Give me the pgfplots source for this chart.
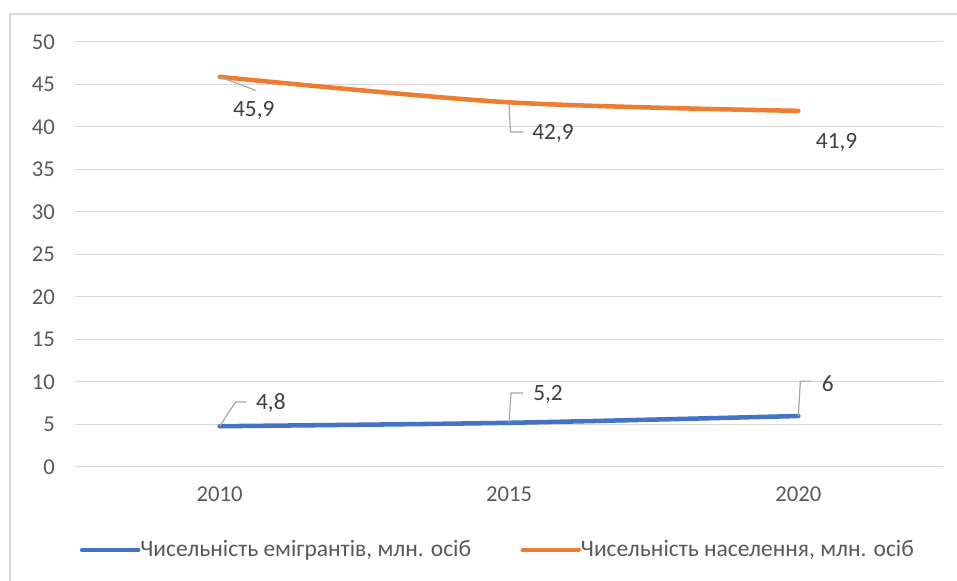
\documentclass[border=0pt]{standalone}
\usepackage{pgfplots}
\pgfplotsset{compat=1.18}
\usepackage{fontspec}
\setmainfont{Carlito}
\definecolor{cblue}{HTML}{4472C4}
\definecolor{corange}{HTML}{ED7D31}
\definecolor{cgrid}{HTML}{D9D9D9}
\definecolor{ctext}{HTML}{595959}
\definecolor{clab}{HTML}{404040}
\definecolor{clead}{HTML}{A6A6A6}
\begin{document}
\begin{tikzpicture}
\useasboundingbox (-56.25pt,-85.5pt) rectangle (661.5pt,350.25pt);
\draw[cgrid, line width=0.9pt] (-48.75pt,-90pt) -- (-48.75pt,339.75pt) -- (665pt,339.75pt);
\begin{axis}[
  at={(0,0)}, anchor=south west,
  scale only axis,
  width=651pt, height=318.75pt,
  xmin=-0.5, xmax=2.5,
  ymin=0, ymax=50,
  xtick={0,1,2},
  xticklabels={2010,2015,2020},
  ytick={0,5,...,50},
  axis line style={draw=none},
  major tick length=0pt,
  ymajorgrids,
  grid style={cgrid, line width=0.75pt},
  tick label style={font=\fontsize{17}{20}\selectfont, text=ctext},
  /pgf/number format/assume math mode=true,
  yticklabel style={xshift=-11.5pt},
  xticklabel style={yshift=-11pt},
  legend columns=2,
  legend style={draw=none, at={(0.486,-0.195)}, anchor=center,
    font=\fontsize{17.6}{20}\selectfont, text=ctext,
    /tikz/every even column/.append style={column sep=37pt},
    inner sep=0pt,
    nodes={inner sep=0pt}},
  legend image code/.code={\draw[line width=3.4pt, line cap=round] (0pt,0pt) -- (42pt,0pt);},
  clip=false,
]
\addplot[cblue, line width=3.4pt, line cap=round, smooth, tension=0.5] coordinates {(0,4.8) (1,5.2) (2,6)};
\addlegendentry{Чисельність емігрантів, млн. осіб}
\addplot[corange, line width=3.4pt, line cap=round, smooth, tension=0.5] coordinates {(0,45.9) (1,42.9) (2,41.9)};
\addlegendentry{Чисельність населення, млн. осіб}
% leader lines
\draw[clead, line width=0.9pt] (axis cs:0.0,45.9) -- (axis cs:0.125,44.3);
\draw[clead, line width=0.9pt] (axis cs:1.0,42.9) -- (axis cs:1.005,39.4) -- (axis cs:1.05,39.4);
\draw[clead, line width=0.9pt] (axis cs:0.0,4.8) -- (axis cs:0.055,7.65) -- (axis cs:0.093,7.65);
\draw[clead, line width=0.9pt] (axis cs:1.0,5.2) -- (axis cs:1.007,8.7) -- (axis cs:1.048,8.7);
\draw[clead, line width=0.9pt] (axis cs:2.0,6) -- (axis cs:2.007,10.1) -- (axis cs:2.048,10.1);
% data labels
\begin{scope}[every node/.style={font=\fontsize{17.5}{20}\selectfont, text=clab, inner sep=0pt}]
\node[anchor=center] at (axis cs:0.118,42.0) {45,9};
\node[anchor=west] at (axis cs:1.08,39.3) {42,9};
\node[anchor=west] at (axis cs:2.06,38.2) {41,9};
\node[anchor=west] at (axis cs:0.125,7.5) {4,8};
\node[anchor=west] at (axis cs:1.083,8.5) {5,2};
\node[anchor=west] at (axis cs:2.08,9.8) {6};
\end{scope}
\end{axis}
\end{tikzpicture}
\end{document}
